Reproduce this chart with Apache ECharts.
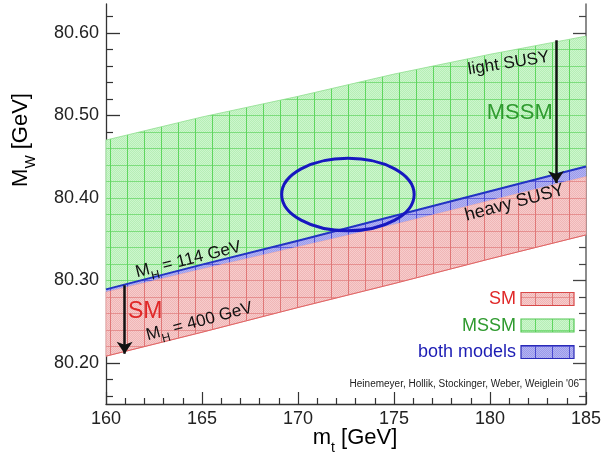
<!DOCTYPE html>
<html><head><meta charset="utf-8">
<script src="https://cdn.jsdelivr.net/npm/echarts@6/dist/echarts.min.js"></script>
<style>html,body{margin:0;padding:0;background:#fff}#c{width:604px;height:461px}</style>
</head><body><div id="c"></div>
<script>
// ---- data ----
const mtGrid      = [160, 165, 170, 175, 180, 185];
const mssmUpper   = [80.470, 80.498, 80.523, 80.550, 80.574, 80.596];
const mh114Line   = [80.289, 80.319, 80.348, 80.378, 80.408, 80.438];
const bothLower   = [80.286, 80.314, 80.341, 80.368, 80.397, 80.426];
const mh400Line   = [80.208, 80.237, 80.267, 80.296, 80.326, 80.355];
const ellipseCenter = [172.6, 80.404];
const ellipseRadii  = [3.45, 0.044];
const arrowStarts = [[160.97, 80.294], [183.44, 80.591]];
const arrowEnds   = [[160.97, 80.211], [183.44, 80.418]];
const xTicks      = [160, 165, 170, 175, 180, 185];
const yMajorTicks = [80.20, 80.30, 80.40, 80.50, 80.60];
const yMinorTicks = [80.16, 80.18, 80.22, 80.24, 80.26, 80.28, 80.32, 80.34, 80.36, 80.38,
                     80.42, 80.44, 80.46, 80.48, 80.52, 80.54, 80.56, 80.58, 80.62];
const annTexts  = ['light SUSY', 'MSSM', 'heavy SUSY', '{m|M}{s|H}{m| = 114 GeV}', '{m|M}{s|H}{m| = 400 GeV}', 'SM'];
const annPos    = [[180.97, 80.563], [181.55, 80.5026], [181.28, 80.394], [164.32, 80.322], [164.9, 80.247], [162.04, 80.2617]];
const annRot    = [9, 0, 15, 14, 15, 0];
const legendLabels = ['SM', 'MSSM', 'both models'];
const credit = "Heinemeyer, Hollik, Stockinger, Weber, Weiglein '06";

// ---- layout / style ----
const FONT = '"Liberation Sans", Arial, sans-serif';
const G = {left: 106, top: 4, width: 481, height: 400};
const YMIN = 80.15, YMAX = 80.635, XMIN = 160, XMAX = 185;
const py = v => G.top + (YMAX - v) / (YMAX - YMIN) * G.height;

function makePattern(base, dot, vline, hline) {
  const c = document.createElement('canvas'); c.width = 17; c.height = 33;
  const g = c.getContext('2d');
  g.fillStyle = base; g.fillRect(0, 0, 17, 33);
  g.fillStyle = dot;
  for (let y = 0; y < 33; y++) for (let x = 0; x < 17; x++) if ((x + y) % 2 === 0) g.fillRect(x, y, 1, 1);
  g.fillStyle = hline; g.fillRect(0, 0, 17, 1); g.fillRect(0, 16, 17, 1);
  g.fillStyle = vline; g.fillRect(0, 0, 1, 33);
  const offY = Math.round(py(80.20)) % 33;
  return {image: c, repeat: 'repeat', x: 8, y: offY};
}
const greenPat = makePattern('#cdf6cd', '#b6eeb6', '#5fd65f', '#7ddd7d');
const redPat   = makePattern('#f7cccc', '#efb6b6', '#e07878', '#e69090');
const bluePat  = makePattern('#b4b4f2', '#9a9aea', '#4a4ad0', '#6060d8');

const colors = {sm: '#e02828', mssm: '#2f9a2f', both: '#1c1cb4'};

const chart = echarts.init(document.getElementById('c'), null, {renderer: 'canvas'});

function poly(api, upper, lower) {
  const pts = [];
  for (let i = 0; i < mtGrid.length; i++) pts.push(api.coord([mtGrid[i], upper[i]]));
  for (let i = mtGrid.length - 1; i >= 0; i--) pts.push(api.coord([mtGrid[i], lower[i]]));
  return pts;
}
function line(api, arr) { return mtGrid.map((m, i) => api.coord([m, arr[i]])); }

const axisCommon = {type: 'value', min: YMIN, max: YMAX, splitLine: {show: false}};
const option = {
  animation: false,
  backgroundColor: '#fff',
  grid: G,
  xAxis: {
    type: 'value', min: XMIN, max: XMAX, interval: 5,
    axisLine: {onZero: false, lineStyle: {color: '#333', width: 1.3}},
    axisTick: {inside: true, length: 12, lineStyle: {color: '#333', width: 1.2}},
    minorTick: {show: true, splitNumber: 5, length: 6, lineStyle: {color: '#333', width: 1.2}},
    axisLabel: {fontSize: 18, color: '#222', fontFamily: FONT, margin: 6},
    splitLine: {show: false}
  },
  yAxis: [
    Object.assign({}, axisCommon, {position: 'left',
      axisLine: {show: true, lineStyle: {color: '#333', width: 1.3}},
      axisTick: {show: true, inside: true, length: 14, customValues: yMajorTicks, lineStyle: {color: '#333', width: 1.3}},
      axisLabel: {customValues: yMajorTicks, formatter: v => v.toFixed(2), fontSize: 18, color: '#222', fontFamily: FONT, margin: 7}}),
    Object.assign({}, axisCommon, {position: 'left',
      axisLine: {show: false},
      axisTick: {show: true, inside: true, length: 7, customValues: yMinorTicks, lineStyle: {color: '#333', width: 1.2}},
      axisLabel: {show: false}}),
    Object.assign({}, axisCommon, {position: 'right',
      axisLine: {show: true, lineStyle: {color: '#666', width: 1.5}},
      axisTick: {show: true, inside: true, length: 13, customValues: yMajorTicks, lineStyle: {color: '#444', width: 1.3}},
      axisLabel: {show: false}}),
    Object.assign({}, axisCommon, {position: 'right',
      axisLine: {show: false},
      axisTick: {show: true, inside: true, length: 7, customValues: yMinorTicks, lineStyle: {color: '#444', width: 1.2}},
      axisLabel: {show: false}})
  ],
  series: [
    {
      type: 'custom', name: 'regions', data: [[172.5, 80.4]], silent: true, z: 1,
      renderItem: (params, api) => ({
        type: 'group',
        children: [
          {type: 'polygon', shape: {points: poly(api, mssmUpper, mh114Line)}, style: {fill: greenPat, stroke: '#8fe08f', lineWidth: 0.8}},
          {type: 'polygon', shape: {points: poly(api, bothLower, mh400Line)}, style: {fill: redPat, stroke: '#ec9a9a', lineWidth: 0.8}},
          {type: 'polygon', shape: {points: poly(api, mh114Line, bothLower)}, style: {fill: bluePat}},
          {type: 'polyline', shape: {points: line(api, mh114Line)}, style: {stroke: '#2233c4', lineWidth: 2, fill: null}},
          {type: 'polyline', shape: {points: line(api, mh400Line)}, style: {stroke: '#e06464', lineWidth: 1, fill: null}}
        ]
      })
    },
    {
      type: 'custom', name: 'ellipse', data: [ellipseCenter], silent: true, z: 3,
      renderItem: (params, api) => {
        const c = api.coord([api.value(0), api.value(1)]);
        const s = api.size(ellipseRadii, [api.value(0), api.value(1)]);
        return {type: 'ellipse', shape: {cx: c[0], cy: c[1], rx: s[0], ry: s[1]}, style: {fill: null, stroke: '#1717c0', lineWidth: 3}};
      }
    },
    {
      type: 'lines', coordinateSystem: 'cartesian2d', z: 4, silent: true,
      data: arrowStarts.map((s, i) => ({coords: [s, arrowEnds[i]]})),
      symbol: ['none', 'arrow'], symbolSize: [9, 12],
      lineStyle: {color: '#111', width: 2.5, opacity: 1}
    },
    {
      type: 'custom', name: 'annotations', z: 5, silent: true,
      data: annPos.map((p, i) => [p[0], p[1], i]),
      renderItem: (params, api) => {
        const i = params.dataIndex;
        const c = api.coord([api.value(0), api.value(1)]);
        const styles = [
          {fill: '#111', font: '17px ' + FONT},
          {fill: colors.mssm, font: '22px ' + FONT},
          {fill: '#111', font: '18px ' + FONT},
          {fill: '#111', font: '17px ' + FONT},
          {fill: '#111', font: '17px ' + FONT},
          {fill: colors.sm, font: '23px ' + FONT}
        ];
        const st = Object.assign({text: annTexts[i], x: 0, y: 0, align: 'center', verticalAlign: 'middle',
          rich: {
            m: {fontSize: 17, fontFamily: FONT, color: '#111', lineHeight: 22, verticalAlign: 'top'},
            s: {fontSize: 12, fontFamily: FONT, color: '#111', lineHeight: 12, verticalAlign: 'bottom'}
          }}, styles[i]);
        return {type: 'text', x: c[0], y: c[1], rotation: annRot[i] * Math.PI / 180, style: st};
      }
    }
  ],
  graphic: [
    {type: 'text', x: 355, y: 441, style: {text: '{m|m}{s|t}{m| [GeV]}', align: 'center', verticalAlign: 'middle',
      rich: {m: {fontSize: 22, fontFamily: FONT, color: '#222', lineHeight: 28, verticalAlign: 'top'},
             s: {fontSize: 14, fontFamily: FONT, color: '#222', lineHeight: 14, verticalAlign: 'bottom'}}}},
    {type: 'text', x: 24, y: 140, rotation: Math.PI / 2, style: {text: '{m|M}{s|W}{m| [GeV]}', align: 'center', verticalAlign: 'middle',
      rich: {m: {fontSize: 22, fontFamily: FONT, color: '#222', lineHeight: 28, verticalAlign: 'top'},
             s: {fontSize: 14, fontFamily: FONT, color: '#222', lineHeight: 14, verticalAlign: 'bottom'}}}},
    {type: 'text', x: 579, y: 384, style: {text: credit, align: 'right', verticalAlign: 'middle', font: '10px ' + FONT, fill: '#222'}},
    {type: 'text', x: 516, y: 299.5, style: {text: legendLabels[0], align: 'right', verticalAlign: 'middle', font: '18px ' + FONT, fill: colors.sm}},
    {type: 'text', x: 516, y: 326, style: {text: legendLabels[1], align: 'right', verticalAlign: 'middle', font: '18px ' + FONT, fill: colors.mssm}},
    {type: 'text', x: 516, y: 352, style: {text: legendLabels[2], align: 'right', verticalAlign: 'middle', font: '18px ' + FONT, fill: colors.both}},
    {type: 'rect', shape: {x: 521, y: 292.5, width: 53, height: 13}, style: {fill: redPat, stroke: '#d84848', lineWidth: 1.2}},
    {type: 'rect', shape: {x: 521, y: 319, width: 53, height: 13}, style: {fill: greenPat, stroke: '#55c855', lineWidth: 1.2}},
    {type: 'rect', shape: {x: 521, y: 345.5, width: 53, height: 13}, style: {fill: bluePat, stroke: '#2a2ab8', lineWidth: 1.2}}
  ]
};
chart.setOption(option);
</script>
</body></html>
